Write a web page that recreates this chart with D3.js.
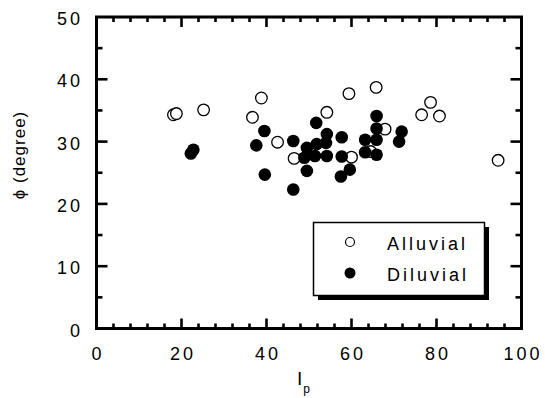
<!DOCTYPE html>
<html><head><meta charset="utf-8">
<script src="https://cdn.jsdelivr.net/npm/d3@7"></script>
<style>body{margin:0;background:#fff}svg{display:block}</style>
</head><body>
<script>
const xTicks = [0, 20, 40, 60, 80, 100];
const yTicks = [0, 10, 20, 30, 40, 50];
const seriesNames = ["Alluvial", "Diluvial"];
const alluvialIp = [18.1, 18.8, 25.2, 38.8, 36.7, 42.6, 46.5, 54.2, 59.4, 65.8, 60.0, 64.5, 67.9, 76.5, 78.6, 80.7, 94.5];
const alluvialPhi = [34.3, 34.5, 35.1, 37.0, 33.9, 29.9, 27.3, 34.7, 37.7, 38.7, 27.5, 28.4, 32.0, 34.3, 36.3, 34.1, 27.0];
const diluvialIp = [22.2, 22.8, 37.6, 39.5, 39.6, 46.3, 46.3, 51.7, 54.2, 54.0, 49.5, 51.8, 48.9, 51.4, 54.2, 49.5, 57.7, 57.7, 57.5, 59.6, 63.2, 63.2, 65.9, 65.9, 65.9, 65.9, 71.8, 71.2];
const diluvialPhi = [28.1, 28.7, 29.4, 31.7, 24.7, 30.1, 22.3, 33.0, 31.2, 29.8, 29.0, 29.6, 27.4, 27.7, 27.7, 25.3, 30.7, 27.6, 24.4, 25.5, 30.3, 28.3, 34.1, 32.1, 30.3, 27.9, 31.6, 30.0];

const W = 545, H = 398;
const svg = d3.select("body").append("svg").attr("width", W).attr("height", H);
const x = d3.scaleLinear().domain([0, 100]).range([96.5, 521.5]);
const y = d3.scaleLinear().domain([0, 50]).range([328.5, 17]);
const font = "'Liberation Sans', Arial, sans-serif";

// frame
svg.append("rect").attr("x", x(0)).attr("y", y(50)).attr("width", x(100) - x(0)).attr("height", y(0) - y(50))
  .attr("fill", "none").attr("stroke", "#000").attr("stroke-width", 3);

// ticks (inward, all four sides)
const xMinor = d3.range(0, 101, 4).filter(v => v % 20 !== 0);
const yMinor = d3.range(5, 50, 10);
const tk = svg.append("g").attr("stroke", "#000").attr("stroke-width", 2.6);
function xt(vals, len) {
  vals.forEach(v => {
    tk.append("line").attr("x1", x(v)).attr("x2", x(v)).attr("y1", y(0)).attr("y2", y(0) - len);
    tk.append("line").attr("x1", x(v)).attr("x2", x(v)).attr("y1", y(50)).attr("y2", y(50) + len);
  });
}
function yt(vals, len) {
  vals.forEach(v => {
    tk.append("line").attr("y1", y(v)).attr("y2", y(v)).attr("x1", x(0)).attr("x2", x(0) + len);
    tk.append("line").attr("y1", y(v)).attr("y2", y(v)).attr("x1", x(100)).attr("x2", x(100) - len);
  });
}
xt(xMinor, 5); xt(xTicks.slice(1, -1), 10);
yt(yMinor, 6); yt(yTicks.slice(1, -1), 11);

// tick labels
svg.append("g").selectAll("text").data(xTicks).join("text")
  .attr("x", d => x(d) + 1.5).attr("y", 360).attr("text-anchor", "middle")
  .attr("font-family", font).attr("font-size", 18).attr("letter-spacing", 3)
  .text(d => d);
svg.append("g").selectAll("text").data(yTicks).join("text")
  .attr("x", 83).attr("y", d => y(d) + 8).attr("text-anchor", "end")
  .attr("font-family", font).attr("font-size", 18).attr("letter-spacing", 3)
  .text(d => d);

// axis titles
const xl = svg.append("text").attr("x", 297).attr("y", 385).attr("font-family", font).attr("font-size", 19);
xl.append("tspan").text("I");
xl.append("tspan").attr("font-size", 12).attr("dx", 1).attr("dy", 8).text("p");
svg.append("text").attr("transform", "translate(25,155) rotate(-90)").attr("text-anchor", "middle")
  .attr("font-family", font).attr("font-size", 17).attr("letter-spacing", 1)
  .text("ϕ   (degree)");

// points
const alluvial = alluvialIp.map((v, i) => [v, alluvialPhi[i]]);
const diluvial = diluvialIp.map((v, i) => [v, diluvialPhi[i]]);
svg.append("g").selectAll("circle").data(alluvial).join("circle")
  .attr("cx", d => x(d[0])).attr("cy", d => y(d[1])).attr("r", 5.8)
  .attr("fill", "#fff").attr("stroke", "#000").attr("stroke-width", 1.3);
svg.append("g").selectAll("circle").data(diluvial).join("circle")
  .attr("cx", d => x(d[0])).attr("cy", d => y(d[1])).attr("r", 6.3)
  .attr("fill", "#000");

// legend
const lg = svg.append("g");
lg.append("rect").attr("x", 318).attr("y", 227).attr("width", 171).attr("height", 73).attr("fill", "#000");
lg.append("rect").attr("x", 313.5).attr("y", 222.5).attr("width", 171).attr("height", 73)
  .attr("fill", "#fff").attr("stroke", "#000").attr("stroke-width", 1.5);
seriesNames.forEach((name, i) => {
  const cy = 242 + i * 31;
  if (i === 0) {
    lg.append("circle").attr("cx", 350).attr("cy", cy).attr("r", 4.5).attr("fill", "#fff").attr("stroke", "#000").attr("stroke-width", 1.2);
  } else {
    lg.append("circle").attr("cx", 350).attr("cy", cy).attr("r", 5.5).attr("fill", "#000");
  }
  lg.append("text").attr("x", 387).attr("y", cy + 8).attr("font-family", font).attr("font-size", 18)
    .attr("letter-spacing", 3).text(name);
});
</script>
</body></html>
